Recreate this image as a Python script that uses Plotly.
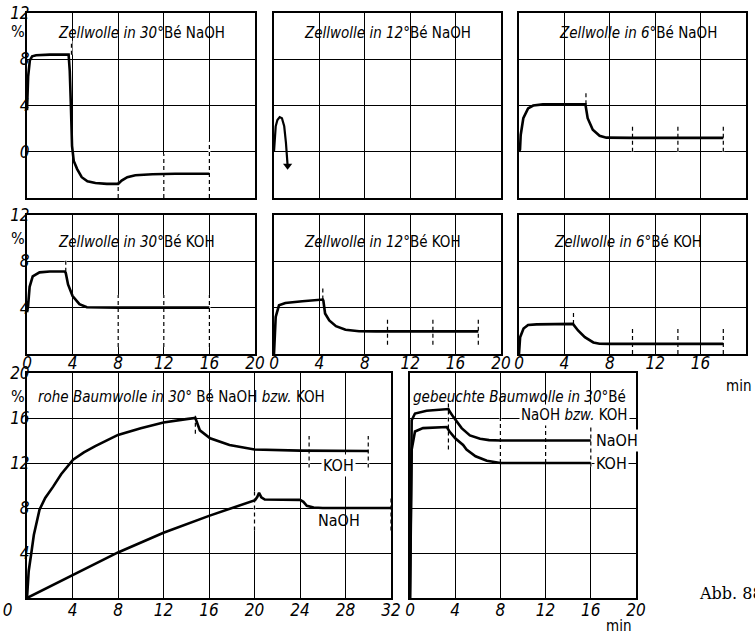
import plotly.graph_objects as go

W, H = 755, 634

NUM = "Liberation Sans Narrow, DejaVu Sans Condensed, Arial Narrow, sans-serif"
SERIF = "DejaVu Serif, Liberation Serif, serif"

# --- tick values / labels ---
x20_ticks = [0, 4, 8, 12, 16, 20]
x20_labels = ["0", "4", "8", "12", "16", "20"]
x32_ticks = [0, 4, 8, 12, 16, 20, 24, 28, 32]
x32_labels = ["0" + "\u00a0" * 8, "4", "8", "12", "16", "20", "24", "28", "32"]
row1_yticks = [-4, 0, 4, 8, 12]
row1_ylabels = ["", "0", "4", "8", "12"]
row2_yticks = [0, 4, 8, 12]
row2_ylabels = ["", "4", "8", "12"]
row3_yticks = [0, 4, 8, 12, 16, 20]
row3_ylabels = ["", "4", "8", "12", "16", "20"]

# --- panel 1: Zellwolle in 30 Bé NaOH ---
p1_x = [0, 0.1, 0.25, 0.45, 0.8, 2, 3.65, 3.75, 3.85, 3.95, 4.1, 4.4, 4.8, 5.3, 6, 7, 8, 8.3, 8.8, 9.5, 11, 13, 16]
p1_y = [3.6, 6.5, 7.9, 8.25, 8.35, 8.4, 8.4, 7.0, 4.0, 0.5, -0.8, -1.5, -2.2, -2.55, -2.7, -2.78, -2.78, -2.5, -2.2, -2.03, -1.95, -1.9, -1.9]
p1_mark_x = [3.9, 8, 12, 16]
p1_mark_lo = [8.4, -4, -4, -4]
p1_mark_hi = [9.6, -2.6, -0.2, 0.9]

# --- panel 2: Zellwolle in 12 Bé NaOH ---
p2_x = [0, 0.05, 0.15, 0.3, 0.5, 0.7, 0.9, 1.05, 1.15, 1.2]
p2_y = [0, 1.2, 2.2, 2.75, 3.0, 2.9, 2.2, 0.8, -0.5, -1.2]

# --- panel 3: Zellwolle in 6 Bé NaOH ---
p3_x = [0, 0.09, 0.15, 0.38, 0.8, 1.25, 2.1, 5.85, 6.05, 6.5, 7.1, 7.7, 10, 14, 18]
p3_y = [0, 0.2, 1.45, 2.9, 3.75, 4.0, 4.1, 4.1, 2.9, 1.9, 1.38, 1.22, 1.2, 1.2, 1.2]
p3_mark_x = [5.9, 10, 14, 18]
p3_mark_lo = [4.1, 0, 0, 0]
p3_mark_hi = [5.2, 2.3, 2.3, 2.3]

# --- panel 4: Zellwolle in 30 Bé KOH ---
p4_x = [0, 0.09, 0.23, 0.5, 1.1, 2.0, 3.3, 3.4, 3.6, 4.0, 4.6, 5.25, 8, 12, 16]
p4_y = [3.6, 4.1, 5.8, 6.7, 7.05, 7.12, 7.12, 7.0, 6.0, 5.0, 4.3, 4.03, 4.0, 4.0, 4.0]
p4_mark_x = [3.4, 8, 12, 16]
p4_mark_lo = [7.1, 0.6, 0.6, 0.6]
p4_mark_hi = [8.3, 5.1, 5.1, 5.1]

# --- panel 5: Zellwolle in 12 Bé KOH ---
p5_x = [0, 0.08, 0.15, 0.44, 1.0, 2.5, 4.3, 4.35, 4.5, 4.87, 5.46, 6.3, 7.5, 9, 12, 18]
p5_y = [0, 1.5, 3.2, 4.2, 4.4, 4.55, 4.7, 4.6, 3.5, 2.9, 2.4, 2.1, 1.97, 1.95, 1.95, 1.95]
p5_mark_x = [4.3, 10, 14, 18]
p5_mark_lo = [4.7, 0.8, 0.8, 0.8]
p5_mark_hi = [5.8, 3.2, 3.2, 3.2]

# --- panel 6: Zellwolle in 6 Bé KOH ---
p6_x = [0, 0.05, 0.1, 0.4, 0.8, 1.55, 3.0, 4.75, 5.2, 5.8, 6.55, 7.1, 8, 12, 18]
p6_y = [0, 0.8, 1.45, 2.2, 2.5, 2.56, 2.6, 2.6, 2.03, 1.45, 1.0, 0.88, 0.87, 0.87, 0.87]
p6_mark_x = [4.8, 10, 14, 18]
p6_mark_lo = [2.6, 0, 0, 0]
p6_mark_hi = [3.8, 2.2, 2.2, 2.2]

# --- panel 7: rohe Baumwolle in 30 Bé NaOH bzw. KOH ---
p7_koh_x = [0, 0.15, 0.38, 0.6, 1.1, 1.6, 2.3, 3.0, 4.05, 5, 6, 8, 10, 12, 14, 14.8, 15.2, 16.1, 17.8, 20, 24, 30]
p7_koh_y = [0, 2.4, 4.0, 5.6, 7.85, 8.9, 9.9, 11.0, 12.3, 12.95, 13.5, 14.5, 15.1, 15.6, 15.9, 16.0, 14.9, 14.2, 13.6, 13.2, 13.1, 13.07]
p7_naoh_x = [0, 4, 8, 12, 16, 20.05, 20.25, 20.4, 20.6, 20.9, 24, 24.3, 24.6, 25.2, 26, 32]
p7_naoh_y = [0, 2.05, 4.05, 5.8, 7.3, 8.7, 9.0, 9.35, 8.95, 8.75, 8.72, 8.55, 8.2, 8.05, 8.0, 8.0]
p7_mark_x = [14.8, 20, 24.8, 30, 32]
p7_mark_lo = [14.6, 6.0, 11.6, 11.6, 6.0]
p7_mark_hi = [16.4, 9.5, 14.4, 14.4, 9.0]

# --- panel 8: gebeuchte Baumwolle in 30 Bé ---
p8_naoh_x = [0, 0.08, 0.15, 0.44, 1.47, 3.4, 3.5, 3.83, 4.57, 5.3, 6.2, 7.0, 8, 12, 16]
p8_naoh_y = [0, 12.0, 15.8, 16.4, 16.65, 16.8, 16.6, 16.1, 15.1, 14.45, 14.15, 14.03, 14.0, 14.0, 14.0]
p8_koh_x = [0, 0.08, 0.15, 0.44, 1.15, 3.25, 3.5, 4.0, 4.7, 5.0, 5.8, 6.8, 8, 12, 16]
p8_koh_y = [0, 10.0, 13.2, 14.8, 15.1, 15.2, 14.8, 14.2, 13.6, 13.2, 12.6, 12.2, 12.0, 12.0, 12.0]
p8_mark_x = [3.4, 8, 12, 16]
p8_mark_lo = [13.2, 12.0, 12.0, 11.7]
p8_mark_hi = [17.3, 16.0, 16.0, 16.0]


def ax_name(kind, n):
    return kind if n == 1 else f"{kind}{n}"


def add_panel(fig, n, xpx, ypx, xrange, yrange, xticks, yticks, xlabels=None, ylabels=None, xstand=-6):
    tickfont = dict(family=NUM, size=17, color="black", style="italic")
    common = dict(showline=True, mirror=True, linecolor="black", linewidth=2,
                  showgrid=True, gridcolor="black", gridwidth=1, zeroline=False,
                  ticks="", tickfont=tickfont, fixedrange=True, automargin=False)
    fig.update_layout(**{
        ax_name("xaxis", n): dict(domain=[xpx[0] / W, xpx[1] / W], range=xrange, anchor=ax_name("y", n),
                                  tickmode="array", tickvals=xticks, ticktext=xlabels or [""] * len(xticks),
                                  ticklabelstandoff=xstand, **common),
        ax_name("yaxis", n): dict(domain=[1 - ypx[1] / H, 1 - ypx[0] / H], range=yrange, anchor=ax_name("x", n),
                                  tickmode="array", tickvals=yticks, ticktext=ylabels or [""] * len(yticks),
                                  ticklabelstandoff=-8, **common),
    })


def add_curve(fig, n, x, y, width=2.6):
    fig.add_trace(go.Scatter(x=x, y=y, mode="lines", xaxis=ax_name("x", n), yaxis=ax_name("y", n),
                             line=dict(color="black", width=width), showlegend=False, hoverinfo="skip"))


def add_marks(fig, n, xs, lo, hi):
    sx, sy = [], []
    for a, b, c in zip(xs, lo, hi):
        sx += [a, a, None]
        sy += [b, c, None]
    fig.add_trace(go.Scatter(x=sx, y=sy, mode="lines", xaxis=ax_name("x", n), yaxis=ax_name("y", n),
                             line=dict(color="white", width=2), showlegend=False, hoverinfo="skip"))
    fig.add_trace(go.Scatter(x=sx, y=sy, mode="lines", xaxis=ax_name("x", n), yaxis=ax_name("y", n),
                             line=dict(color="black", width=1.2, dash="4px,3px"), showlegend=False, hoverinfo="skip"))


def add_text(fig, n, x, y, text, size=15, anchor="center", bg=None):
    fig.add_annotation(x=x, y=y, xref=ax_name("x", n), yref=ax_name("y", n), text=text, showarrow=False,
                       xanchor=anchor, yanchor="middle", font=dict(family=NUM, size=size, color="black"),
                       bgcolor=bg, borderpad=1)


def add_page_text(fig, xpx, ypx, text, family=NUM, size=15, anchor="center"):
    fig.add_annotation(x=xpx / W, y=1 - ypx / H, xref="paper", yref="paper", text=text, showarrow=False,
                       xanchor=anchor, yanchor="middle", font=dict(family=family, size=size, color="black"))


fig = go.Figure()

add_panel(fig, 1, (27, 255), (13, 198), [0, 20], [-4, 12], x20_ticks, row1_yticks, None, row1_ylabels)
add_panel(fig, 2, (274, 501), (13, 198), [0, 20], [-4, 12], x20_ticks, row1_yticks)
add_panel(fig, 3, (519, 746), (13, 198), [0, 20], [-4, 12], x20_ticks, row1_yticks)
add_panel(fig, 4, (27, 255), (215, 354), [0, 20], [0, 12], x20_ticks, row2_yticks, x20_labels, row2_ylabels, -7)
add_panel(fig, 5, (274, 501), (215, 354), [0, 20], [0, 12], x20_ticks, row2_yticks, x20_labels, None, -7)
add_panel(fig, 6, (519, 746), (215, 354), [0, 20], [0, 12], x20_ticks, row2_yticks, x20_labels, None, -7)
add_panel(fig, 7, (27, 391), (373, 598), [0, 32], [0, 20], x32_ticks, row3_yticks, x32_labels, row3_ylabels, -4)
add_panel(fig, 8, (410, 636), (373, 598), [0, 20], [0, 20], x20_ticks, row3_yticks, x20_labels, None, -4)

add_marks(fig, 1, p1_mark_x, p1_mark_lo, p1_mark_hi)
add_marks(fig, 3, p3_mark_x, p3_mark_lo, p3_mark_hi)
add_marks(fig, 4, p4_mark_x, p4_mark_lo, p4_mark_hi)
add_marks(fig, 5, p5_mark_x, p5_mark_lo, p5_mark_hi)
add_marks(fig, 6, p6_mark_x, p6_mark_lo, p6_mark_hi)
add_marks(fig, 7, p7_mark_x, p7_mark_lo, p7_mark_hi)
add_marks(fig, 8, p8_mark_x, p8_mark_lo, p8_mark_hi)

add_curve(fig, 1, p1_x, p1_y)
add_curve(fig, 2, p2_x, p2_y, 2.2)
fig.add_trace(go.Scatter(x=p2_x[-1:], y=p2_y[-1:], mode="markers", xaxis="x2", yaxis="y2",
                         marker=dict(symbol="triangle-down", size=8, color="black"),
                         showlegend=False, hoverinfo="skip", cliponaxis=False))
add_curve(fig, 3, p3_x, p3_y)
add_curve(fig, 4, p4_x, p4_y)
add_curve(fig, 5, p5_x, p5_y)
add_curve(fig, 6, p6_x, p6_y)
add_curve(fig, 7, p7_koh_x, p7_koh_y)
add_curve(fig, 7, p7_naoh_x, p7_naoh_y)
add_curve(fig, 8, p8_naoh_x, p8_naoh_y)
add_curve(fig, 8, p8_koh_x, p8_koh_y)

# titles
add_text(fig, 1, 10, 10.3, "<i>Zellwolle in 30°</i>Bé NaOH")
add_text(fig, 2, 10, 10.3, "<i>Zellwolle in 12°</i>Bé NaOH")
add_text(fig, 3, 10.5, 10.3, "<i>Zellwolle in 6°</i>Bé NaOH")
add_text(fig, 4, 9.6, 9.7, "<i>Zellwolle in 30°</i>Bé KOH")
add_text(fig, 5, 9.6, 9.7, "<i>Zellwolle in 12°</i>Bé KOH")
add_text(fig, 6, 9.6, 9.7, "<i>Zellwolle in 6°</i>Bé KOH")
add_text(fig, 7, 0.8, 17.9, "<i>rohe Baumwolle in 30°</i> Bé NaOH <i>bzw.</i> KOH", anchor="left")
add_text(fig, 8, 0.1, 17.9, "<i>gebeuchte Baumwolle in 30°</i>Bé", anchor="left")
add_text(fig, 8, 14.6, 16.3, "NaOH <i>bzw.</i> KOH", bg="white")

# curve labels
add_text(fig, 7, 27.4, 11.8, "KOH", 16, bg="white")
add_text(fig, 7, 27.4, 6.9, "NaOH", 16)
add_text(fig, 8, 16.3, 14.0, "NaOH", 16, anchor="left", bg="white")
add_text(fig, 8, 16.3, 12.0, "KOH", 16, anchor="left", bg="white")

# % signs next to y axes
for n, yv in [(1, 10.4), (4, 10.0), (7, 17.9)]:
    fig.add_annotation(x=18 / W, y=yv, xref="paper", yref=ax_name("y", n), text="%", showarrow=False,
                       xanchor="center", yanchor="middle", font=dict(family=NUM, size=16, color="black"))

# units and figure number
add_page_text(fig, 738, 386, "min")
add_page_text(fig, 618, 626, "min")
add_page_text(fig, 697, 593, "Abb. 88", family=SERIF, size=16, anchor="left")

fig.update_layout(width=W, height=H, margin=dict(l=0, r=0, t=0, b=0),
                  paper_bgcolor="white", plot_bgcolor="white")

fig.write_html("out.html", config={"displayModeBar": False},
               post_script="document.body.style.margin = '0';")
